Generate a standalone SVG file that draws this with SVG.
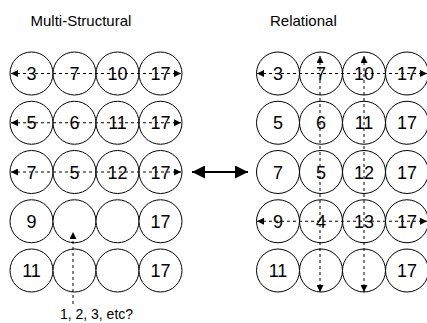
<svg xmlns="http://www.w3.org/2000/svg" width="427" height="323" viewBox="0 0 427 323">
<defs>
<marker id="ah" viewBox="0 0 10 10" refX="10" refY="5" markerWidth="7" markerHeight="7" markerUnits="userSpaceOnUse" orient="auto-start-reverse"><path d="M0,0 L10,5 L0,10 Z" fill="#000"/></marker>
<marker id="big" viewBox="0 0 10 10" refX="10" refY="5" markerWidth="13" markerHeight="13" markerUnits="userSpaceOnUse" orient="auto-start-reverse"><path d="M0,0 L10,5 L0,10 Z" fill="#000"/></marker>
</defs>
<style>
.c{fill:#fff;stroke:#000;stroke-width:1}
.n{font-family:"Liberation Sans",Arial,sans-serif;font-size:18px;fill:#000;text-anchor:middle}
.t{font-family:"Liberation Sans",Arial,sans-serif;font-size:15px;fill:#000}
.s{font-family:"Liberation Sans",Arial,sans-serif;font-size:14px;fill:#000;text-anchor:middle}
.d{stroke:#000;stroke-width:1;stroke-dasharray:3 3;fill:none}
</style>
<rect width="427" height="323" fill="#fff"/>
<text class="t" x="30.5" y="26">Multi-Structural</text>
<text class="t" x="270" y="26">Relational</text>

<g id="L11"><circle class="c" cx="31.5" cy="73.5" r="21.5"/><text class="n" x="31.5" y="80">3</text></g>
<g id="L12"><circle class="c" cx="74.5" cy="73.5" r="21.5"/><text class="n" x="74.5" y="80">7</text></g>
<g id="L13"><circle class="c" cx="117.5" cy="73.5" r="21.5"/><text class="n" x="117.5" y="80">10</text></g>
<g id="L14"><circle class="c" cx="160.5" cy="73.5" r="21.5"/><text class="n" x="160.5" y="80">17</text></g>
<g id="L21"><circle class="c" cx="31.5" cy="122.75" r="21.5"/><text class="n" x="31.5" y="129.25">5</text></g>
<g id="L22"><circle class="c" cx="74.5" cy="122.75" r="21.5"/><text class="n" x="74.5" y="129.25">6</text></g>
<g id="L23"><circle class="c" cx="117.5" cy="122.75" r="21.5"/><text class="n" x="117.5" y="129.25">11</text></g>
<g id="L24"><circle class="c" cx="160.5" cy="122.75" r="21.5"/><text class="n" x="160.5" y="129.25">17</text></g>
<g id="L31"><circle class="c" cx="31.5" cy="172" r="21.5"/><text class="n" x="31.5" y="178.5">7</text></g>
<g id="L32"><circle class="c" cx="74.5" cy="172" r="21.5"/><text class="n" x="74.5" y="178.5">5</text></g>
<g id="L33"><circle class="c" cx="117.5" cy="172" r="21.5"/><text class="n" x="117.5" y="178.5">12</text></g>
<g id="L34"><circle class="c" cx="160.5" cy="172" r="21.5"/><text class="n" x="160.5" y="178.5">17</text></g>
<g id="L41"><circle class="c" cx="31.5" cy="221.25" r="21.5"/><text class="n" x="31.5" y="227.75">9</text></g>
<g id="L42"><circle class="c" cx="74.5" cy="221.25" r="21.5"/></g>
<g id="L43"><circle class="c" cx="117.5" cy="221.25" r="21.5"/></g>
<g id="L44"><circle class="c" cx="160.5" cy="221.25" r="21.5"/><text class="n" x="160.5" y="227.75">17</text></g>
<g id="L51"><circle class="c" cx="31.5" cy="270.5" r="21.5"/><text class="n" x="31.5" y="277">11</text></g>
<g id="L52"><circle class="c" cx="74.5" cy="270.5" r="21.5"/></g>
<g id="L53"><circle class="c" cx="117.5" cy="270.5" r="21.5"/></g>
<g id="L54"><circle class="c" cx="160.5" cy="270.5" r="21.5"/><text class="n" x="160.5" y="277">17</text></g>

<g id="R11"><circle class="c" cx="278" cy="73.5" r="21.5"/><text class="n" x="278" y="80">3</text></g>
<g id="R12"><circle class="c" cx="321" cy="73.5" r="21.5"/><text class="n" x="321" y="80">7</text></g>
<g id="R13"><circle class="c" cx="364" cy="73.5" r="21.5"/><text class="n" x="364" y="80">10</text></g>
<g id="R14"><circle class="c" cx="407" cy="73.5" r="21.5"/><text class="n" x="407" y="80">17</text></g>
<g id="R21"><circle class="c" cx="278" cy="122.75" r="21.5"/><text class="n" x="278" y="129.25">5</text></g>
<g id="R22"><circle class="c" cx="321" cy="122.75" r="21.5"/><text class="n" x="321" y="129.25">6</text></g>
<g id="R23"><circle class="c" cx="364" cy="122.75" r="21.5"/><text class="n" x="364" y="129.25">11</text></g>
<g id="R24"><circle class="c" cx="407" cy="122.75" r="21.5"/><text class="n" x="407" y="129.25">17</text></g>
<g id="R31"><circle class="c" cx="278" cy="172" r="21.5"/><text class="n" x="278" y="178.5">7</text></g>
<g id="R32"><circle class="c" cx="321" cy="172" r="21.5"/><text class="n" x="321" y="178.5">5</text></g>
<g id="R33"><circle class="c" cx="364" cy="172" r="21.5"/><text class="n" x="364" y="178.5">12</text></g>
<g id="R34"><circle class="c" cx="407" cy="172" r="21.5"/><text class="n" x="407" y="178.5">17</text></g>
<g id="R41"><circle class="c" cx="278" cy="221.25" r="21.5"/><text class="n" x="278" y="227.75">9</text></g>
<g id="R42"><circle class="c" cx="321" cy="221.25" r="21.5"/><text class="n" x="321" y="227.75">4</text></g>
<g id="R43"><circle class="c" cx="364" cy="221.25" r="21.5"/><text class="n" x="364" y="227.75">13</text></g>
<g id="R44"><circle class="c" cx="407" cy="221.25" r="21.5"/><text class="n" x="407" y="227.75">17</text></g>
<g id="R51"><circle class="c" cx="278" cy="270.5" r="21.5"/><text class="n" x="278" y="277">11</text></g>
<g id="R52"><circle class="c" cx="321" cy="270.5" r="21.5"/></g>
<g id="R53"><circle class="c" cx="364" cy="270.5" r="21.5"/></g>
<g id="R54"><circle class="c" cx="407" cy="270.5" r="21.5"/><text class="n" x="407" y="277">17</text></g>

<text class="s" x="96.5" y="319">1, 2, 3, etc?</text>

<g id="connectors">
<line class="d" x1="11" y1="73.5" x2="181" y2="73.5" marker-start="url(#ah)" marker-end="url(#ah)"/>
<line class="d" x1="11" y1="122.75" x2="181" y2="122.75" marker-start="url(#ah)" marker-end="url(#ah)"/>
<line class="d" x1="11" y1="172" x2="181" y2="172" marker-start="url(#ah)" marker-end="url(#ah)"/>
<line class="d" x1="73" y1="304" x2="73" y2="232" marker-end="url(#ah)"/>
<line x1="192" y1="172" x2="248" y2="172" stroke="#000" stroke-width="2" marker-start="url(#big)" marker-end="url(#big)"/>
<line class="d" x1="257" y1="73.5" x2="427" y2="73.5" marker-start="url(#ah)" marker-end="url(#ah)"/>
<line class="d" x1="257" y1="221.25" x2="427" y2="221.25" marker-start="url(#ah)" marker-end="url(#ah)"/>
<line class="d" x1="320" y1="56" x2="320" y2="292" marker-start="url(#ah)" marker-end="url(#ah)"/>
<line class="d" x1="364" y1="56" x2="364" y2="292" marker-start="url(#ah)" marker-end="url(#ah)"/>
</g>
</svg>
